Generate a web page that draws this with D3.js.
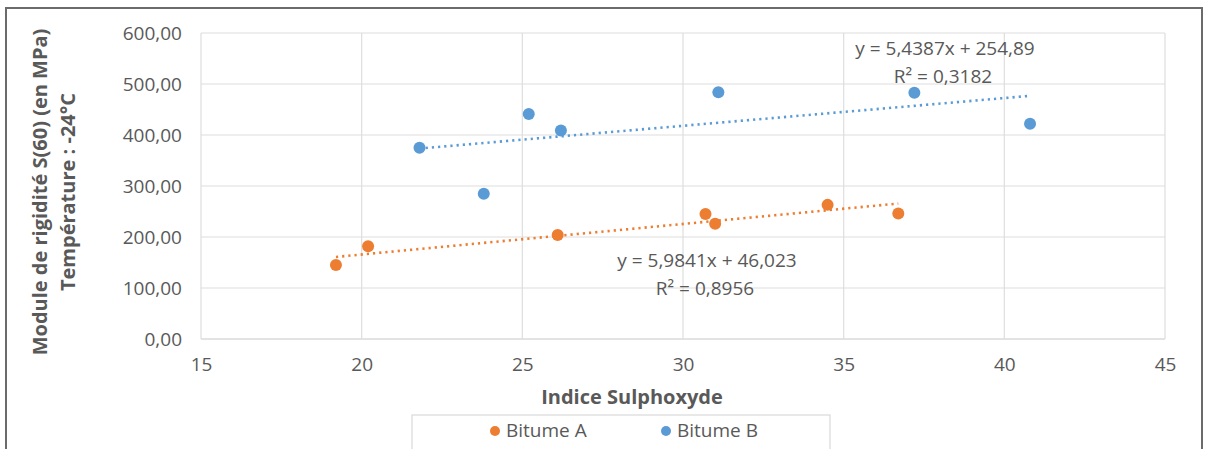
<!DOCTYPE html>
<html><head><meta charset="utf-8">
<script src="https://cdn.jsdelivr.net/npm/d3@7"></script>
<style>body{margin:0;background:#fff;}svg{display:block;font-family:"Open Sans",sans-serif;}</style>
</head><body>
<svg id="c" width="1206" height="449"></svg>
<script>
const seriesNames = ["Bitume A", "Bitume B"];
const bitumeA_x = [19.2, 20.2, 26.1, 30.7, 31.0, 34.5, 36.7];
const bitumeA_y = [145, 182, 204, 245, 226, 263, 246];
const bitumeB_x = [21.8, 23.8, 25.2, 26.2, 31.1, 37.2, 40.8];
const bitumeB_y = [375, 285, 441, 409, 484, 483, 422];
const trendA = {slope: 5.9841, intercept: 46.023, label: "y = 5,9841x + 46,023", r2: "R² = 0,8956"};
const trendB = {slope: 5.4387, intercept: 254.89, label: "y = 5,4387x + 254,89", r2: "R² = 0,3182"};
const xTicks = [15, 20, 25, 30, 35, 40, 45];
const yTicks = [0, 100, 200, 300, 400, 500, 600];
const colors = ["#ED7D31", "#5B9BD5"];

const svg = d3.select("#c");
const fmtY = d => d3.format(".2f")(d).replace(".", ",");

const x = d3.scaleLinear().domain([15, 45]).range([201, 1165]);
const y = d3.scaleLinear().domain([0, 600]).range([339, 33]);

// outer frame
svg.append("rect").attr("x", 6).attr("y", 8).attr("width", 1196).attr("height", 460)
  .attr("fill", "#fff").attr("stroke", "#6b6b6b").attr("stroke-width", 2);

// gridlines
svg.append("g").selectAll("line").data(yTicks).join("line")
  .attr("x1", x(15)).attr("x2", x(45)).attr("y1", d => y(d)).attr("y2", d => y(d))
  .attr("stroke", d => d === 0 ? "#c8c8c8" : "#dedede").attr("stroke-width", 1.2);
svg.append("g").selectAll("line").data(xTicks).join("line")
  .attr("x1", d => x(d)).attr("x2", d => x(d)).attr("y1", y(0)).attr("y2", y(600))
  .attr("stroke", "#dedede").attr("stroke-width", 1.2);

// axes via d3
const yAxis = d3.axisLeft(y).tickValues(yTicks).tickFormat(fmtY).tickSize(0).tickPadding(19);
const gy = svg.append("g").attr("transform", `translate(${x(15)},0)`).call(yAxis);
gy.select(".domain").remove();
gy.selectAll("text").attr("fill", "#595959").style("font-size", "19px").style("font-family", "'Open Sans',sans-serif");

const xAxis = d3.axisBottom(x).tickValues(xTicks).tickFormat(d => d).tickSize(0).tickPadding(19);
const gx = svg.append("g").attr("transform", `translate(0,${y(0)})`).call(xAxis);
gx.select(".domain").remove();
gx.selectAll("text").attr("fill", "#595959").style("font-size", "19px").style("font-family", "'Open Sans',sans-serif");

// axis titles
svg.append("text").attr("x", 632).attr("y", 404).attr("text-anchor", "middle")
  .attr("fill", "#595959").style("font-size", "20px").style("font-weight", "bold")
  .text("Indice Sulphoxyde");
const yt = svg.append("text").attr("transform", "translate(0,192) rotate(-90)")
  .attr("text-anchor", "middle").attr("fill", "#595959").style("font-size", "20px").style("font-weight", "bold");
yt.append("tspan").attr("x", 0).attr("y", 47).text("Module de rigidité S(60) (en MPa)");
yt.append("tspan").attr("x", 0).attr("y", 75).text("Température : -24°C");

// trendlines
function trend(xs, t, color) {
  const x0 = d3.min(xs), x1 = d3.max(xs);
  svg.append("line")
    .attr("x1", x(x0)).attr("y1", y(t.slope * x0 + t.intercept))
    .attr("x2", x(x1)).attr("y2", y(t.slope * x1 + t.intercept))
    .attr("stroke", color).attr("stroke-width", 2.6)
    .attr("stroke-dasharray", "2.2 4").attr("stroke-linecap", "butt");
}
trend(bitumeA_x, trendA, colors[0]);
trend(bitumeB_x, trendB, colors[1]);

// points
function pts(xs, ys, color) {
  svg.append("g").selectAll("circle").data(xs.map((v, i) => [v, ys[i]])).join("circle")
    .attr("cx", d => x(d[0])).attr("cy", d => y(d[1])).attr("r", 6).attr("fill", color);
}
pts(bitumeA_x, bitumeA_y, colors[0]);
pts(bitumeB_x, bitumeB_y, colors[1]);

// equation labels
function eq(t, cx, cy) {
  svg.append("text").attr("x", cx).attr("y", cy).attr("text-anchor", "middle")
    .attr("fill", "#595959").style("font-size", "19px").text(t.label);
  svg.append("text").attr("x", cx - 2).attr("y", cy + 28).attr("text-anchor", "middle")
    .attr("fill", "#595959").style("font-size", "19px").text(t.r2);
}
eq(trendB, 945, 55);
eq(trendA, 707, 267);

// legend
svg.append("rect").attr("x", 412).attr("y", 415).attr("width", 418).attr("height", 40)
  .attr("fill", "#fff").attr("stroke", "#d9d9d9").attr("stroke-width", 1.2);
const legX = [495, 666];
seriesNames.forEach((n, i) => {
  svg.append("circle").attr("cx", legX[i]).attr("cy", 431).attr("r", 5).attr("fill", colors[i]);
  svg.append("text").attr("x", legX[i] + 11).attr("y", 437).attr("fill", "#595959")
    .style("font-size", "19px").text(n);
});
</script>
</body></html>
